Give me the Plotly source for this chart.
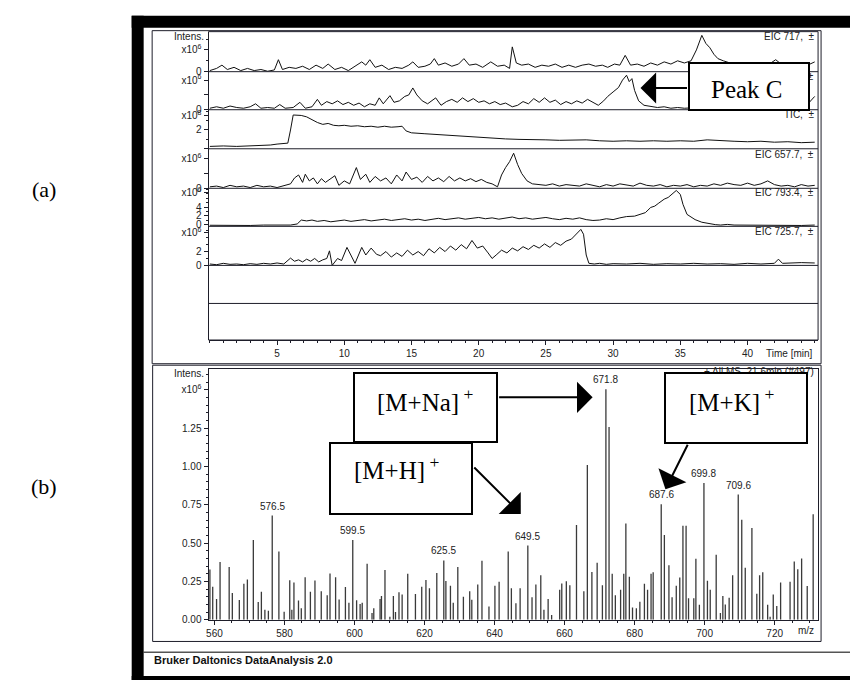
import plotly.graph_objects as go

# ---------------- data ----------------
time_ticks = [5, 10, 15, 20, 25, 30, 35, 40]
mz_ticks = [560, 580, 600, 620, 640, 660, 680, 700, 720]
int_ticks = [0.0, 0.25, 0.5, 0.75, 1.0, 1.25, 1.5]
int_tick_text = ["0.00", "0.25", "0.50", "0.75", "1.00", "1.25", "x10<sup>6</sup>"]

strip_labels = ["EIC 717,\u00a0\u00a0\u00b1", "EIC 671.8,\u00a0\u00a0\u00b1", "TIC,\u00a0\u00a0\u00b1",
                "EIC 657.7,\u00a0\u00a0\u00b1", "EIC 793.4,\u00a0\u00a0\u00b1", "EIC 725.7,\u00a0\u00a0\u00b1"]

# (time [min], intensity) pairs, intensities in the strip's own units
eic717 = [(0.0, 0.05), (0.5, 0.15), (0.9, 0.3), (1.3, 0.1), (1.8, 0.2), (2.3, 0.05), (2.8, 0.15), (3.3, 0.05),
          (3.8, 0.1), (4.3, 0.02), (4.8, 0.08), (5.1, 0.55), (5.4, 0.1), (5.9, 0.2), (6.4, 0.15), (6.9, 0.25),
          (7.4, 0.1), (7.9, 0.3), (8.4, 0.15), (8.8, 0.35), (9.3, 0.1), (9.8, 0.2), (10.3, 0.05), (10.8, 0.25),
          (11.3, 0.45), (11.6, 0.3), (11.9, 0.55), (12.3, 0.2), (12.8, 0.3), (13.3, 0.1), (13.8, 0.2),
          (14.3, 0.15), (14.8, 0.3), (15.1, 0.45), (15.5, 0.2), (16.0, 0.25), (16.4, 0.35), (16.7, 0.6),
          (17.0, 0.3), (17.5, 0.4), (18.0, 0.25), (18.5, 0.35), (18.9, 0.6), (19.3, 0.3), (19.8, 0.35),
          (20.3, 0.2), (20.9, 0.45), (21.4, 0.25), (21.9, 0.3), (22.3, 0.15), (22.5, 1.14), (22.8, 0.4),
          (23.2, 0.3), (23.7, 0.35), (24.2, 0.2), (24.7, 0.3), (25.2, 0.25), (25.7, 0.35), (26.2, 0.2),
          (26.7, 0.3), (27.2, 0.2), (27.7, 0.3), (28.2, 0.35), (28.7, 0.25), (29.2, 0.3), (29.6, 0.2),
          (30.1, 0.35), (30.5, 0.3), (30.9, 0.75), (31.3, 0.3), (31.8, 0.35), (32.3, 0.25), (32.8, 0.4),
          (33.3, 0.3), (33.8, 0.45), (34.3, 0.35), (34.8, 0.5), (35.3, 0.4), (35.8, 0.5), (36.2, 1.0),
          (36.6, 1.67), (36.9, 1.3), (37.2, 1.1), (37.5, 0.8), (37.8, 0.6), (38.2, 0.5), (38.7, 0.4),
          (39.5, 0.3), (40.5, 0.35), (41.5, 0.3), (42.1, 0.55), (42.6, 0.3), (43.5, 0.3), (44.3, 0.25),
          (45.0, 0.45)]

eic671 = [(0.0, 0.1), (0.5, 0.2), (1.0, 0.1), (1.5, 0.25), (2.0, 0.15), (2.5, 0.1), (3.0, 0.2), (3.4, 0.4),
          (3.8, 0.1), (4.3, 0.15), (4.8, 0.1), (5.2, 0.35), (5.6, 0.1), (6.2, 0.15), (6.7, 0.5), (7.1, 0.1),
          (7.6, 0.2), (8.0, 0.7), (8.3, 0.3), (8.7, 0.55), (9.1, 0.4), (9.5, 0.6), (9.9, 0.35), (10.3, 0.5),
          (10.7, 0.3), (11.1, 0.45), (11.5, 0.2), (11.9, 0.4), (12.3, 0.3), (12.6, 0.8), (12.9, 0.4),
          (13.4, 0.95), (13.7, 0.5), (14.1, 0.6), (14.5, 0.9), (14.8, 1.0), (15.1, 1.47), (15.4, 1.0),
          (15.8, 0.6), (16.2, 0.4), (16.8, 0.8), (17.2, 0.3), (17.6, 0.55), (18.0, 0.7), (18.4, 0.5),
          (18.8, 0.8), (19.2, 0.55), (19.6, 0.75), (20.0, 0.5), (20.4, 0.6), (20.8, 0.4), (21.2, 0.55),
          (21.6, 0.35), (22.0, 0.45), (22.5, 0.2), (22.9, 0.3), (23.3, 0.55), (23.7, 0.4), (24.1, 0.75),
          (24.5, 0.5), (24.9, 0.8), (25.3, 0.5), (25.7, 0.65), (26.1, 0.35), (26.5, 0.55), (26.9, 0.4),
          (27.3, 0.6), (27.7, 0.45), (28.1, 0.7), (28.5, 0.5), (28.9, 0.3), (29.3, 0.6), (29.6, 0.9),
          (30.0, 1.2), (30.4, 1.5), (30.7, 2.0), (31.0, 2.33), (31.2, 1.9), (31.4, 2.1), (31.6, 1.3),
          (31.9, 0.6), (32.3, 0.3), (32.8, 0.25), (33.3, 0.15), (33.8, 0.2), (34.3, 0.1), (34.8, 0.15),
          (35.3, 0.1), (36.5, 0.15), (38.0, 0.1), (40.0, 0.2), (42.0, 0.15), (44.0, 0.3), (44.6, 0.5),
          (45.0, 0.9)]

tic = [(0, 0.25), (1, 0.3), (2, 0.25), (3, 0.3), (4, 0.3), (4.5, 0.4), (5.0, 0.5), (5.5, 0.55), (5.8, 0.6),
       (6.0, 2.0), (6.2, 3.6), (6.8, 3.55), (7.2, 3.4), (7.6, 3.1), (8.0, 2.8), (8.4, 2.6), (8.8, 2.7),
       (9.2, 2.5), (9.6, 2.45), (10, 2.5), (10.5, 2.4), (11, 2.45), (11.5, 2.35), (12, 2.4), (12.5, 2.3),
       (13, 2.4), (13.5, 2.3), (14.0, 2.35), (14.3, 2.4), (14.6, 1.9), (15, 1.7), (16, 1.6), (17, 1.5),
       (18, 1.45), (19, 1.3), (20, 1.25), (21, 1.1), (22, 1.05), (23, 1.0), (24, 1.0), (25, 0.95), (26, 0.9),
       (27, 0.9), (28, 0.95), (29, 0.85), (30, 0.8), (31, 0.85), (32, 0.8), (33, 0.85), (34, 0.8), (35, 0.85),
       (36, 0.8), (37, 0.95), (38, 0.85), (39, 0.8), (40, 0.75), (41, 0.8), (42, 0.7), (43, 0.75), (44, 0.65),
       (45, 0.7)]

eic657 = [(0, 0.1), (0.5, 0.15), (1, 0.05), (1.5, 0.2), (2, 0.1), (2.5, 0.15), (3, 0.05), (3.5, 0.2), (4, 0.1),
          (4.5, 0.15), (5, 0.05), (5.5, 0.2), (6.0, 0.3), (6.3, 0.7), (6.6, 0.9), (6.9, 0.4), (7.1, 0.95),
          (7.4, 0.5), (7.7, 0.7), (8.0, 0.3), (8.3, 0.65), (8.6, 0.4), (8.9, 0.6), (9.3, 0.85), (9.6, 0.2),
          (10.0, 0.5), (10.4, 0.3), (10.9, 1.4), (11.2, 0.6), (11.6, 0.95), (11.9, 0.4), (12.3, 0.8),
          (12.7, 0.5), (13.1, 0.7), (13.5, 0.3), (13.9, 0.9), (14.3, 0.5), (14.6, 1.1), (15.0, 0.6),
          (15.4, 0.75), (15.8, 0.4), (16.2, 0.8), (16.6, 0.5), (17.0, 0.7), (17.4, 0.45), (17.8, 0.8),
          (18.2, 0.5), (18.6, 0.7), (19.0, 0.5), (19.4, 0.65), (19.8, 0.45), (20.2, 0.6), (20.6, 0.4),
          (21.0, 0.3), (21.4, 0.1), (21.7, 0.9), (22.0, 1.4), (22.3, 1.8), (22.6, 2.37), (22.9, 1.6),
          (23.2, 1.0), (23.6, 0.5), (24.0, 0.3), (24.5, 0.25), (25, 0.2), (25.5, 0.3), (26, 0.15),
          (26.5, 0.25), (27, 0.2), (27.5, 0.15), (28, 0.3), (28.5, 0.2), (29, 0.1), (29.5, 0.25), (30, 0.15),
          (30.5, 0.3), (31, 0.2), (31.5, 0.15), (32, 0.35), (32.5, 0.2), (33, 0.15), (33.5, 0.25), (34, 0.1),
          (34.5, 0.2), (35, 0.15), (35.5, 0.25), (36, 0.1), (36.5, 0.2), (37, 0.15), (37.5, 0.3), (38, 0.2),
          (38.5, 0.35), (39, 0.25), (39.5, 0.2), (40, 0.35), (40.5, 0.2), (41, 0.3), (41.5, 0.5), (42, 0.25),
          (42.5, 0.15), (43, 0.2), (43.5, 0.1), (44, 0.25), (44.5, 0.15), (45, 0.2)]

eic793 = [(0, -0.2), (1, -0.25), (2, -0.2), (3, -0.25), (4, -0.15), (5, -0.2), (6, -0.15), (6.5, 0.1),
          (6.8, 1.0), (7.2, 0.8), (7.6, 1.0), (8, 0.7), (8.5, 0.9), (9, 0.6), (9.5, 0.8), (10, 1.0),
          (10.5, 0.7), (11, 0.9), (11.5, 1.1), (12, 0.8), (12.5, 1.0), (13, 1.2), (13.5, 0.9), (14, 1.1),
          (14.5, 1.3), (15, 1.0), (15.5, 1.2), (16, 0.9), (16.5, 1.1), (17, 1.4), (17.5, 1.1), (18, 1.3),
          (18.5, 1.5), (19, 1.2), (19.5, 1.4), (20, 1.6), (20.5, 1.3), (21, 1.5), (21.5, 1.2), (22, 1.4),
          (22.5, 1.7), (23, 1.3), (23.5, 1.5), (24, 1.2), (24.5, 1.4), (25, 1.6), (25.5, 1.3), (26, 1.1),
          (26.5, 1.4), (27, 1.2), (27.5, 1.5), (28, 1.1), (28.5, 0.9), (29, 1.0), (29.5, 1.3), (30, 1.1),
          (30.5, 1.5), (31, 1.8), (31.6, 1.9), (32, 2.3), (32.4, 2.7), (32.8, 3.9), (33.1, 4.2), (33.4, 4.9),
          (33.8, 5.8), (34.1, 6.2), (34.3, 6.8), (34.7, 7.8), (35.0, 6.9), (35.2, 4.6), (35.5, 2.3),
          (35.8, 1.7), (36.1, 1.1), (36.6, 0.5), (37.1, 0.2), (37.6, -0.05), (38, -0.15), (38.5, 0.0),
          (39, -0.15), (40, -0.2), (41, -0.15), (42, -0.25), (43, -0.2), (44, -0.25), (45, -0.15)]

eic725 = [(0, 0.2), (0.5, 0.1), (1, 0.3), (1.5, 0.15), (2, 0.2), (2.5, 0.1), (3, 0.25), (3.5, 0.15), (4, 0.3),
          (4.5, 0.2), (5, 0.35), (5.5, 0.2), (6.0, 1.05), (6.3, 0.6), (6.6, 0.8), (6.9, 0.5), (7.2, 0.9),
          (7.5, 0.6), (7.8, 1.0), (8.1, 0.5), (8.4, 0.8), (8.7, 1.0), (8.9, 2.1), (9.1, 0.0), (9.5, 1.0),
          (9.8, 0.7), (10.2, 2.6), (10.5, 1.4), (10.8, 0.3), (11.3, 2.6), (11.6, 1.5), (12.0, 2.5),
          (12.4, 1.6), (12.7, 1.4), (13.1, 2.0), (13.5, 1.2), (13.9, 1.8), (14.3, 1.3), (14.7, 2.2),
          (15.1, 1.5), (15.5, 2.0), (15.9, 1.4), (16.3, 2.4), (16.7, 1.8), (17.1, 2.6), (17.5, 2.0),
          (17.9, 2.8), (18.3, 2.2), (18.7, 3.0), (19.1, 2.4), (19.5, 3.6), (19.9, 2.5), (20.3, 2.8),
          (20.7, 1.8), (21.0, 1.0), (21.3, 1.5), (21.7, 2.2), (22.1, 1.8), (22.5, 2.5), (22.9, 2.1),
          (23.3, 2.7), (23.7, 2.3), (24.1, 2.9), (24.5, 2.5), (24.9, 3.1), (25.3, 2.6), (25.7, 3.3),
          (26.1, 2.9), (26.5, 3.5), (26.9, 3.8), (27.3, 4.6), (27.6, 5.2), (27.8, 4.5), (28.0, 1.5),
          (28.2, 0.3), (28.6, 0.2), (29, 0.3), (29.5, 0.15), (30, 0.25), (31, 0.2), (32, 0.3), (33, 0.15),
          (34, 0.25), (35, 0.2), (36, 0.3), (37, 0.2), (38, 0.25), (39, 0.15), (40, 0.3), (41, 0.2), (42, 0.3),
          (42.3, 0.9), (42.6, 0.3), (43, 0.35), (44, 0.4), (45, 0.35)]

# mass spectrum sticks: (m/z, intensity x10^6)
spectrum = [(558.7, 0.327), (559.5, 0.215), (560.6, 0.135), (561.6, 0.376), (564.2, 0.344), (565.1, 0.174),
            (567.1, 0.129), (568.4, 0.234), (569.4, 0.262), (571.1, 0.52), (572.5, 0.116), (573.4, 0.183),
            (574.4, 0.065), (575.4, 0.058), (576.5, 0.68), (578.4, 0.445), (579.9, 0.052), (581.5, 0.258),
            (582.1, 0.065), (582.7, 0.243), (584.0, 0.125), (584.8, 0.075), (585.9, 0.277), (587.4, 0.183),
            (588.7, 0.256), (590.5, 0.185), (592.2, 0.159), (593.0, 0.301), (594.6, 0.277), (595.6, 0.132),
            (597.4, 0.213), (598.4, 0.110), (599.5, 0.52), (600.6, 0.127), (601.6, 0.103), (602.2, 0.11),
            (603.6, 0.366), (605.0, 0.043), (605.5, 0.075), (607.3, 0.135), (607.7, 0.155), (608.7, 0.325),
            (610.1, 0.02), (611.1, 0.155), (611.7, 0.05), (612.7, 0.18), (613.6, 0.164), (615.2, 0.30),
            (617.4, 0.168), (619.2, 0.215), (620.4, 0.26), (621.4, 0.205), (623.5, 0.305), (625.5, 0.387),
            (626.1, 0.252), (627.4, 0.222), (628.2, 0.11), (629.5, 0.344), (631.1, 0.15), (632.9, 0.185),
            (633.5, 0.13), (635.2, 0.23), (636.4, 0.385), (638.4, 0.086), (640.1, 0.222), (641.3, 0.248),
            (643.9, 0.445), (644.8, 0.205), (646.1, 0.108), (647.3, 0.205), (649.5, 0.484), (650.7, 0.146),
            (651.8, 0.23), (653.2, 0.29), (654.1, 0.065), (655.3, 0.135), (656.3, 0.03), (658.6, 0.196),
            (659.2, 0.237), (660.5, 0.251), (661.5, 0.225), (663.4, 0.619), (665.5, 0.185), (666.5, 1.01),
            (667.8, 0.312), (669.3, 0.372), (670.8, 0.225), (671.8, 1.505), (672.7, 1.258), (673.6, 0.30),
            (674.5, 0.16), (676.0, 0.196), (676.9, 0.30), (677.5, 0.628), (678.5, 0.28), (679.4, 0.08),
            (680.5, 0.075), (681.5, 0.118), (682.8, 0.235), (683.7, 0.196), (684.7, 0.30), (685.3, 0.31),
            (687.6, 0.753), (688.5, 0.553), (689.8, 0.355), (690.7, 0.146), (691.9, 0.222), (692.9, 0.275),
            (693.8, 0.613), (694.7, 0.613), (695.4, 0.14), (696.9, 0.14), (697.5, 0.398), (698.5, 0.097),
            (699.8, 0.892), (700.8, 0.255), (701.6, 0.196), (703.3, 0.424), (704.5, 0.043), (705.2, 0.155),
            (705.9, 0.10), (707.0, 0.144), (708.0, 0.29), (709.6, 0.817), (710.6, 0.652), (711.6, 0.339),
            (713.5, 0.598), (714.9, 0.17), (715.7, 0.29), (716.6, 0.31), (718.0, 0.097), (718.7, 0.02),
            (719.6, 0.164), (720.6, 0.09), (721.7, 0.243), (724.4, 0.248), (725.6, 0.38), (726.6, 0.33),
            (727.7, 0.40), (729.3, 0.22), (731.0, 0.688)]

labelled_peaks = [576.5, 599.5, 625.5, 649.5, 671.8, 687.6, 699.8, 709.6]

# ---------------- geometry helpers (pixels -> paper) ----------------
W, H = 850, 686
def px(x):
    return x / W
def py(y):
    return 1 - y / H

LINE = "#1e1e2a"
FONT = "Liberation Sans, Arial, sans-serif"
SERIF = "Liberation Serif, Times New Roman, serif"
X6 = "x10<sup>6</sup>"
X8 = "x10<sup>8</sup>"

fig = go.Figure()

traces = [eic717, eic671, tic, eic657, eic793, eic725]
yrefs = ["y", "y2", "y3", "y4", "y5", "y6"]
for data, yr in zip(traces, yrefs):
    fig.add_trace(go.Scatter(x=[p[0] for p in data], y=[p[1] for p in data], xaxis="x", yaxis=yr,
                             mode="lines", line=dict(color="#111111", width=1), hoverinfo="skip"))

sx, sy = [], []
for mz, inten in spectrum:
    sx += [mz, mz, None]
    sy += [0, inten, None]
fig.add_trace(go.Scatter(x=sx, y=sy, xaxis="x2", yaxis="y8", mode="lines",
                         line=dict(color="#3a3a3a", width=1.3), hoverinfo="skip"))

# ---------------- axes ----------------
L, R = 207, 818
bounds = [30, 70.5, 109, 148.5, 188.5, 227, 266.5]
AX_BOTTOM = 342
strip_specs = [
    ([0, 1.84], [0, 1], ["0", X6], 0.5),
    ([0, 2.57], [0, 1, 2], ["0", "", X6], None),
    ([0, 4.16], [0, 2, 3.5], ["", "2", X8], 1),
    ([0, 2.67], [0, 1, 2], ["0", "", X6], None),
    ([-0.45, 8.3], [0, 2, 4, 7.3], ["0", "2", "4", X6], 1),
    ([0, 5.64], [0, 2, 4.7], ["0", "2", X6], 1),
]
tickfont = dict(family=FONT, size=10, color="#222222")
layout = dict(width=W, height=H, margin=dict(l=0, r=0, t=0, b=0), paper_bgcolor="white",
              plot_bgcolor="rgba(0,0,0,0)", showlegend=False)

for i, (rng, tv, tt, mdt) in enumerate(strip_specs):
    key = "yaxis" if i == 0 else "yaxis%d" % (i + 1)
    ax = dict(domain=[py(bounds[i + 1]), py(bounds[i])], anchor="x", range=rng, tickmode="array",
              tickvals=tv, ticktext=tt, ticks="outside", ticklen=4, tickcolor=LINE, showline=True,
              linecolor=LINE, linewidth=1, showgrid=False, zeroline=False, tickfont=tickfont, fixedrange=True)
    if mdt:
        ax["minor"] = dict(dtick=mdt, tick0=0, ticks="outside", ticklen=2, tickcolor=LINE)
    layout[key] = ax

layout["xaxis"] = dict(domain=[px(L), px(R)], anchor="free", position=py(AX_BOTTOM), range=[-0.1, 45.25],
                       tickmode="array", tickvals=time_ticks, ticktext=[str(t) for t in time_ticks],
                       ticks="outside", ticklen=4, tickcolor=LINE, showline=True, linecolor=LINE,
                       showgrid=False, zeroline=False, tickfont=tickfont,
                       minor=dict(dtick=1, tick0=0, ticks="outside", ticklen=2, tickcolor=LINE))

layout["xaxis2"] = dict(domain=[px(L), px(R)], anchor="y8", range=[558.3, 732.4], tickmode="array",
                        tickvals=mz_ticks, ticktext=[str(m) for m in mz_ticks], ticks="outside", ticklen=4,
                        tickcolor=LINE, showline=True, linecolor=LINE, mirror=True, showgrid=False,
                        zeroline=False, tickfont=tickfont,
                        minor=dict(dtick=5, tick0=560, ticks="outside", ticklen=2, tickcolor=LINE))
layout["yaxis8"] = dict(domain=[py(625), py(371)], anchor="x2", range=[0, 1.639], tickmode="array",
                        tickvals=int_ticks, ticktext=int_tick_text, ticks="outside", ticklen=4, tickcolor=LINE,
                        showline=True, linecolor=LINE, mirror=True, showgrid=False, zeroline=False,
                        tickfont=tickfont,
                        minor=dict(dtick=0.05, tick0=0, ticks="outside", ticklen=2, tickcolor=LINE))

fig.update_layout(**layout)

# ---------------- shapes: frames, separators, black scan borders ----------------
shapes = []
def rect(x0, y0, x1, y1, fill=None, lw=1, color=LINE):
    d = dict(type="rect", xref="paper", yref="paper", x0=px(x0), x1=px(x1), y0=py(y1), y1=py(y0),
             line=dict(color=color, width=lw))
    if fill:
        d["fillcolor"] = fill
        d["line"] = dict(width=0)
    return d
def hline(y, x0, x1, lw=1, color=LINE):
    return dict(type="line", xref="paper", yref="paper", x0=px(x0), x1=px(x1), y0=py(y), y1=py(y),
                line=dict(color=color, width=lw))

shapes.append(rect(150.5, 29, 821, 366))
shapes.append(rect(L, 30, R, AX_BOTTOM))
for b in bounds[1:] + [305]:
    shapes.append(hline(b, L, R))
shapes.append(rect(151, 367.5, 821, 647))
shapes.append(hline(658, 142, 850, lw=1.5, color="#555555"))
shapes.append(rect(130, 14, 142, 686, fill="black"))
shapes.append(rect(130, 14, 850, 26, fill="black"))
shapes.append(rect(130, 682, 850, 686, fill="black"))
fig.update_layout(shapes=shapes)

# ---------------- annotations ----------------
ann = []
def text(x, y, s, size=10, xanchor="center", yanchor="middle", family=FONT, color="#222222"):
    return dict(xref="paper", yref="paper", x=px(x), y=py(y), text=s, showarrow=False, xanchor=xanchor,
                yanchor=yanchor, font=dict(family=family, size=size, color=color))

label_y = [35, 75, 114, 154, 193, 232]
for s, yy in zip(strip_labels, label_y):
    ann.append(text(816, yy, s, xanchor="right"))
ann.append(text(204, 35, "Intens.", xanchor="right"))
ann.append(text(204, 376, "Intens.", xanchor="right"))
ann.append(text(815, 356, "Time [min]", xanchor="right"))
ann.append(text(806, 636, "m/z"))
ann.append(text(816, 374, "+ All MS, 21.6min (#497)", xanchor="right"))
ann.append(text(42, 190, "(a)", size=22, family=SERIF, color="black"))
ann.append(text(42, 490, "(b)", size=22, family=SERIF, color="black"))
ann.append(dict(xref="paper", yref="paper", x=px(150), y=py(666), text="<b>Bruker Daltonics DataAnalysis 2.0</b>",
                showarrow=False, xanchor="left", yanchor="middle",
                font=dict(family=FONT, size=11, color="#111111")))

# peak labels
spec_lookup = {mz: v for mz, v in spectrum}
for mz in labelled_peaks:
    ann.append(dict(xref="x2", yref="y8", x=mz, y=spec_lookup[mz], text="%.1f" % mz, showarrow=False,
                    yanchor="bottom", yshift=2, font=dict(family=FONT, size=10, color="#222222")))

# boxes (white, bordered) drawn after the labels so they cover them
def box(x0, y0, x1, y1):
    return dict(xref="paper", yref="paper", x=px((x0 + x1) / 2), y=py((y0 + y1) / 2), text=" ",
                showarrow=False, xanchor="center", yanchor="middle", width=x1 - x0 - 4, height=y1 - y0 - 4,
                bgcolor="white", bordercolor="black", borderwidth=2, borderpad=0)

ann.append(box(688, 61.5, 810, 110.5))
ann.append(box(352, 375, 497, 446))
ann.append(box(328, 446, 472, 519))
ann.append(box(664, 375, 808, 447))
ann.append(text(747, 89, "Peak C", size=25, family=SERIF, color="black"))
ann.append(text(424, 403, "[M+Na]<sup> +</sup>", size=25, family=SERIF, color="black"))
ann.append(text(395, 472, "[M+H]<sup> +</sup>", size=25, family=SERIF, color="black"))
ann.append(text(731, 403, "[M+K]<sup> +</sup>", size=25, family=SERIF, color="black"))

def arrow(hx, hy, tx, ty):
    return dict(xref="paper", yref="paper", x=px(hx), y=py(hy), ax=tx - hx, ay=ty - hy, text="",
                showarrow=True, arrowhead=1, arrowsize=2.6, arrowwidth=2, arrowcolor="black")

ann.append(arrow(640, 87, 688, 87))
ann.append(arrow(592, 400, 497, 400))
ann.append(arrow(520, 518, 472, 470))
ann.append(arrow(665, 493, 688, 447))

fig.update_layout(annotations=ann)
fig.write_html("out.html", config={"displayModeBar": False},
               post_script="document.body.style.margin='0px';document.body.style.padding='0px';")
